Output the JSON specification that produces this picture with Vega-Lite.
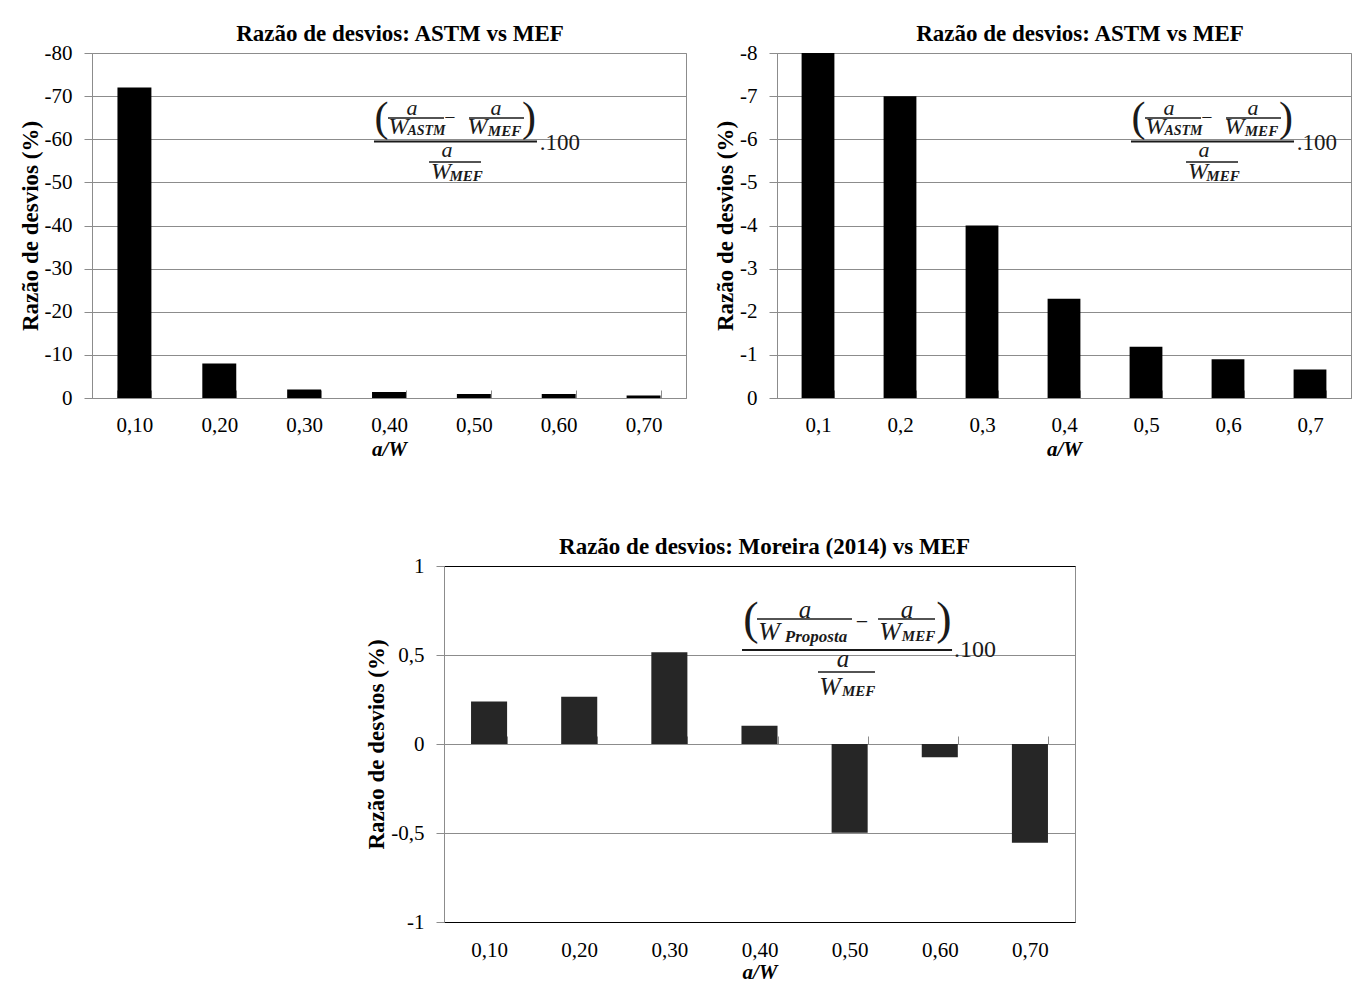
{
"$schema": "https://vega.github.io/schema/vega-lite/v6.json",
"padding": {"left": 18, "top": 22, "right": 1, "bottom": 0},
"config": {
  "font": "Liberation Serif",
  "locale": {"number": {"decimal": ",", "thousands": ".", "grouping": [3], "currency": ["", ""], "minus": "-"}},
  "view": {"stroke": "#8c8c8c", "strokeWidth": 1},
  "axis": {"labelFont": "Liberation Serif", "labelFontSize": 21, "labelColor": "#000", "titleFont": "Liberation Serif", "titleFontSize": 21, "titleFontWeight": "bold", "titleColor": "#000", "domainColor": "#8c8c8c", "tickColor": "#8c8c8c", "gridColor": "#8c8c8c", "gridOpacity": 1, "labelOverlap": false},
  "axisY": {"titleFontSize": 23},
  "title": {"font": "Liberation Serif", "fontSize": 23, "fontWeight": "bold", "color": "#000", "offset": -4}
},
"spacing": 75,
"vconcat": [
 {"hconcat": [
  {
   "width": 594, "height": 345,
   "title": {"text": "Razão de desvios: ASTM vs MEF", "dx": 11},
   "layer": [
    {"data": {"values": [{"aw": "0,10", "v": -72}, {"aw": "0,20", "v": -8}, {"aw": "0,30", "v": -2}, {"aw": "0,40", "v": -1.4}, {"aw": "0,50", "v": -0.9}, {"aw": "0,60", "v": -0.9}, {"aw": "0,70", "v": -0.6}]},
     "mark": {"type": "bar", "color": "#000", "clip": true},
     "encoding": {
      "x": {"field": "aw", "type": "nominal", "sort": null, "scale": {"paddingInner": 0.6, "paddingOuter": 0.3},
            "axis": {"orient": "bottom", "title": "a/W", "titleFontStyle": "italic", "titlePadding": 3, "labelAngle": 0, "tickBand": "extent", "tickSize": -8, "labelPadding": 24}},
      "y": {"field": "v", "type": "quantitative", "scale": {"domain": [-80, 0], "reverse": true, "nice": false, "zero": false},
            "axis": {"title": "Razão de desvios (%)", "values": [-80, -70, -60, -50, -40, -30, -20, -10, 0], "tickSize": 8, "labelPadding": 12, "titlePadding": 2, "grid": true}}
     }},
    {"data": {"values": [{}]},
     "layer": [
      {"mark": {"type": "rule", "color": "#1a1a1a", "strokeWidth": 2}, "encoding": {"x": {"datum": 0.3823, "type": "quantitative", "scale": {"domain": [0.05, 0.75], "nice": false, "zero": false}, "axis": {"orient": "top", "labels": false, "ticks": false, "grid": false, "title": null, "domainColor": "#000", "domainWidth": 1.2}}, "x2": {"datum": 0.5744}, "y": {"datum": -59.48, "type": "quantitative", "axis": null}}},
      {"mark": {"type": "rule", "color": "#1a1a1a", "strokeWidth": 1.5}, "encoding": {"x": {"datum": 0.3988, "type": "quantitative", "axis": null}, "x2": {"datum": 0.4648}, "y": {"datum": -64.93, "type": "quantitative", "axis": null}}},
      {"mark": {"type": "rule", "color": "#1a1a1a", "strokeWidth": 1.5}, "encoding": {"x": {"datum": 0.4943, "type": "quantitative", "axis": null}, "x2": {"datum": 0.5591}, "y": {"datum": -64.93, "type": "quantitative", "axis": null}}},
      {"mark": {"type": "rule", "color": "#1a1a1a", "strokeWidth": 1.5}, "encoding": {"x": {"datum": 0.4472, "type": "quantitative", "axis": null}, "x2": {"datum": 0.5084}, "y": {"datum": -54.72, "type": "quantitative", "axis": null}}},
      {"mark": {"type": "text", "text": "(", "fontSize": 42, "color": "#1a1a1a", "baseline": "middle", "align": "center"}, "encoding": {"x": {"datum": 0.3912, "type": "quantitative", "axis": null}, "y": {"datum": -65.04, "type": "quantitative", "axis": null}}},
      {"mark": {"type": "text", "text": ")", "fontSize": 42, "color": "#1a1a1a", "baseline": "middle", "align": "center"}, "encoding": {"x": {"datum": 0.5650, "type": "quantitative", "axis": null}, "y": {"datum": -65.04, "type": "quantitative", "axis": null}}},
      {"mark": {"type": "text", "text": "a", "fontSize": 22, "fontStyle": "italic", "color": "#1a1a1a", "baseline": "middle", "align": "center"}, "encoding": {"x": {"datum": 0.4271, "type": "quantitative", "axis": null}, "y": {"datum": -67.25, "type": "quantitative", "axis": null}}},
      {"mark": {"type": "text", "text": "a", "fontSize": 22, "fontStyle": "italic", "color": "#1a1a1a", "baseline": "middle", "align": "center"}, "encoding": {"x": {"datum": 0.5261, "type": "quantitative", "axis": null}, "y": {"datum": -67.25, "type": "quantitative", "axis": null}}},
      {"mark": {"type": "text", "text": "W", "fontSize": 24, "fontStyle": "italic", "color": "#1a1a1a", "baseline": "middle", "align": "center"}, "encoding": {"x": {"datum": 0.4112, "type": "quantitative", "axis": null}, "y": {"datum": -62.84, "type": "quantitative", "axis": null}}},
      {"mark": {"type": "text", "text": "ASTM", "fontSize": 14, "fontStyle": "italic", "fontWeight": "bold", "color": "#1a1a1a", "baseline": "middle", "align": "center"}, "encoding": {"x": {"datum": 0.4442, "type": "quantitative", "axis": null}, "y": {"datum": -61.91, "type": "quantitative", "axis": null}}},
      {"mark": {"type": "text", "text": "−", "fontSize": 20, "color": "#1a1a1a", "baseline": "middle", "align": "center"}, "encoding": {"x": {"datum": 0.4719, "type": "quantitative", "axis": null}, "y": {"datum": -64.93, "type": "quantitative", "axis": null}}},
      {"mark": {"type": "text", "text": "W", "fontSize": 24, "fontStyle": "italic", "color": "#1a1a1a", "baseline": "middle", "align": "center"}, "encoding": {"x": {"datum": 0.5043, "type": "quantitative", "axis": null}, "y": {"datum": -62.84, "type": "quantitative", "axis": null}}},
      {"mark": {"type": "text", "text": "MEF", "fontSize": 15, "fontStyle": "italic", "fontWeight": "bold", "color": "#1a1a1a", "baseline": "middle", "align": "center"}, "encoding": {"x": {"datum": 0.5361, "type": "quantitative", "axis": null}, "y": {"datum": -61.91, "type": "quantitative", "axis": null}}},
      {"mark": {"type": "text", "text": ".100", "fontSize": 23, "color": "#1a1a1a", "baseline": "middle", "align": "center"}, "encoding": {"x": {"datum": 0.6015, "type": "quantitative", "axis": null}, "y": {"datum": -59.13, "type": "quantitative", "axis": null}}},
      {"mark": {"type": "text", "text": "a", "fontSize": 22, "fontStyle": "italic", "color": "#1a1a1a", "baseline": "middle", "align": "center"}, "encoding": {"x": {"datum": 0.4684, "type": "quantitative", "axis": null}, "y": {"datum": -57.51, "type": "quantitative", "axis": null}}},
      {"mark": {"type": "text", "text": "W", "fontSize": 24, "fontStyle": "italic", "color": "#1a1a1a", "baseline": "middle", "align": "center"}, "encoding": {"x": {"datum": 0.4613, "type": "quantitative", "axis": null}, "y": {"datum": -52.41, "type": "quantitative", "axis": null}}},
      {"mark": {"type": "text", "text": "MEF", "fontSize": 15, "fontStyle": "italic", "fontWeight": "bold", "color": "#1a1a1a", "baseline": "middle", "align": "center"}, "encoding": {"x": {"datum": 0.4908, "type": "quantitative", "axis": null}, "y": {"datum": -51.48, "type": "quantitative", "axis": null}}}
     ]}
   ],
   "resolve": {"scale": {"x": "independent"}, "axis": {"x": "independent", "y": "independent"}}
  },
  {
   "width": 574, "height": 345,
   "title": {"text": "Razão de desvios: ASTM vs MEF", "dx": 16},
   "layer": [
    {"data": {"values": [{"aw": "0,1", "v": -8}, {"aw": "0,2", "v": -7}, {"aw": "0,3", "v": -4}, {"aw": "0,4", "v": -2.3}, {"aw": "0,5", "v": -1.19}, {"aw": "0,6", "v": -0.9}, {"aw": "0,7", "v": -0.66}]},
     "mark": {"type": "bar", "color": "#000", "clip": true},
     "encoding": {
      "x": {"field": "aw", "type": "nominal", "sort": null, "scale": {"paddingInner": 0.6, "paddingOuter": 0.3},
            "axis": {"orient": "bottom", "title": "a/W", "titleFontStyle": "italic", "titlePadding": 3, "labelAngle": 0, "tickBand": "extent", "tickSize": -8, "labelPadding": 24}},
      "y": {"field": "v", "type": "quantitative", "scale": {"domain": [-8, 0], "reverse": true, "nice": false, "zero": false},
            "axis": {"title": "Razão de desvios (%)", "values": [-8, -7, -6, -5, -4, -3, -2, -1, 0], "tickSize": 8, "labelPadding": 12, "titlePadding": 2, "grid": true}}
     }},
    {"data": {"values": [{}]},
     "layer": [
      {"mark": {"type": "rule", "color": "#1a1a1a", "strokeWidth": 2}, "encoding": {"x": {"datum": 0.4817, "type": "quantitative", "scale": {"domain": [0.05, 0.75], "nice": false, "zero": false}, "axis": {"orient": "top", "labels": false, "ticks": false, "grid": false, "title": null, "domainColor": "#000", "domainWidth": 1.2}}, "x2": {"datum": 0.6805}, "y": {"datum": -5.948, "type": "quantitative", "axis": null}}},
      {"mark": {"type": "rule", "color": "#1a1a1a", "strokeWidth": 1.5}, "encoding": {"x": {"datum": 0.4988, "type": "quantitative", "axis": null}, "x2": {"datum": 0.5671}, "y": {"datum": -6.493, "type": "quantitative", "axis": null}}},
      {"mark": {"type": "rule", "color": "#1a1a1a", "strokeWidth": 1.5}, "encoding": {"x": {"datum": 0.5976, "type": "quantitative", "axis": null}, "x2": {"datum": 0.6646}, "y": {"datum": -6.493, "type": "quantitative", "axis": null}}},
      {"mark": {"type": "rule", "color": "#1a1a1a", "strokeWidth": 1.5}, "encoding": {"x": {"datum": 0.5488, "type": "quantitative", "axis": null}, "x2": {"datum": 0.6122}, "y": {"datum": -5.472, "type": "quantitative", "axis": null}}},
      {"mark": {"type": "text", "text": "(", "fontSize": 42, "color": "#1a1a1a", "baseline": "middle", "align": "center"}, "encoding": {"x": {"datum": 0.4909, "type": "quantitative", "axis": null}, "y": {"datum": -6.504, "type": "quantitative", "axis": null}}},
      {"mark": {"type": "text", "text": ")", "fontSize": 42, "color": "#1a1a1a", "baseline": "middle", "align": "center"}, "encoding": {"x": {"datum": 0.6707, "type": "quantitative", "axis": null}, "y": {"datum": -6.504, "type": "quantitative", "axis": null}}},
      {"mark": {"type": "text", "text": "a", "fontSize": 22, "fontStyle": "italic", "color": "#1a1a1a", "baseline": "middle", "align": "center"}, "encoding": {"x": {"datum": 0.5280, "type": "quantitative", "axis": null}, "y": {"datum": -6.725, "type": "quantitative", "axis": null}}},
      {"mark": {"type": "text", "text": "a", "fontSize": 22, "fontStyle": "italic", "color": "#1a1a1a", "baseline": "middle", "align": "center"}, "encoding": {"x": {"datum": 0.6305, "type": "quantitative", "axis": null}, "y": {"datum": -6.725, "type": "quantitative", "axis": null}}},
      {"mark": {"type": "text", "text": "W", "fontSize": 24, "fontStyle": "italic", "color": "#1a1a1a", "baseline": "middle", "align": "center"}, "encoding": {"x": {"datum": 0.5116, "type": "quantitative", "axis": null}, "y": {"datum": -6.284, "type": "quantitative", "axis": null}}},
      {"mark": {"type": "text", "text": "ASTM", "fontSize": 14, "fontStyle": "italic", "fontWeight": "bold", "color": "#1a1a1a", "baseline": "middle", "align": "center"}, "encoding": {"x": {"datum": 0.5457, "type": "quantitative", "axis": null}, "y": {"datum": -6.191, "type": "quantitative", "axis": null}}},
      {"mark": {"type": "text", "text": "−", "fontSize": 20, "color": "#1a1a1a", "baseline": "middle", "align": "center"}, "encoding": {"x": {"datum": 0.5744, "type": "quantitative", "axis": null}, "y": {"datum": -6.493, "type": "quantitative", "axis": null}}},
      {"mark": {"type": "text", "text": "W", "fontSize": 24, "fontStyle": "italic", "color": "#1a1a1a", "baseline": "middle", "align": "center"}, "encoding": {"x": {"datum": 0.6079, "type": "quantitative", "axis": null}, "y": {"datum": -6.284, "type": "quantitative", "axis": null}}},
      {"mark": {"type": "text", "text": "MEF", "fontSize": 15, "fontStyle": "italic", "fontWeight": "bold", "color": "#1a1a1a", "baseline": "middle", "align": "center"}, "encoding": {"x": {"datum": 0.6408, "type": "quantitative", "axis": null}, "y": {"datum": -6.191, "type": "quantitative", "axis": null}}},
      {"mark": {"type": "text", "text": ".100", "fontSize": 23, "color": "#1a1a1a", "baseline": "middle", "align": "center"}, "encoding": {"x": {"datum": 0.7085, "type": "quantitative", "axis": null}, "y": {"datum": -5.913, "type": "quantitative", "axis": null}}},
      {"mark": {"type": "text", "text": "a", "fontSize": 22, "fontStyle": "italic", "color": "#1a1a1a", "baseline": "middle", "align": "center"}, "encoding": {"x": {"datum": 0.5707, "type": "quantitative", "axis": null}, "y": {"datum": -5.751, "type": "quantitative", "axis": null}}},
      {"mark": {"type": "text", "text": "W", "fontSize": 24, "fontStyle": "italic", "color": "#1a1a1a", "baseline": "middle", "align": "center"}, "encoding": {"x": {"datum": 0.5634, "type": "quantitative", "axis": null}, "y": {"datum": -5.241, "type": "quantitative", "axis": null}}},
      {"mark": {"type": "text", "text": "MEF", "fontSize": 15, "fontStyle": "italic", "fontWeight": "bold", "color": "#1a1a1a", "baseline": "middle", "align": "center"}, "encoding": {"x": {"datum": 0.5939, "type": "quantitative", "axis": null}, "y": {"datum": -5.148, "type": "quantitative", "axis": null}}}
     ]}
   ],
   "resolve": {"scale": {"x": "independent"}, "axis": {"x": "independent", "y": "independent"}}
  }
 ], "spacing": 27},
 {"hconcat": [
  {"width": 273, "height": 1, "mark": {"type": "point", "opacity": 0}, "data": {"values": []}, "view": {"stroke": null}},
  {
   "width": 631, "height": 356,
   "title": {"text": "Razão de desvios: Moreira (2014) vs MEF", "dx": 5},
   "layer": [
    {"data": {"values": [{"aw": "0,10", "v": 0.239}, {"aw": "0,20", "v": 0.265}, {"aw": "0,30", "v": 0.516}, {"aw": "0,40", "v": 0.103}, {"aw": "0,50", "v": -0.499}, {"aw": "0,60", "v": -0.075}, {"aw": "0,70", "v": -0.555}]},
     "mark": {"type": "bar", "color": "#262626", "clip": true},
     "encoding": {
      "x": {"field": "aw", "type": "nominal", "sort": null, "scale": {"paddingInner": 0.6, "paddingOuter": 0.3},
            "axis": {"orient": "bottom", "offset": -178, "title": "a/W", "titleFontStyle": "italic", "titlePadding": 17, "labelAngle": 0, "tickBand": "extent", "tickSize": -8, "labelPadding": 203}},
      "y": {"field": "v", "type": "quantitative", "scale": {"domain": [-1, 1], "nice": false, "zero": false},
            "axis": {"title": "Razão de desvios (%)", "values": [-1, -0.5, 0, 0.5, 1], "format": "~g", "tickSize": 8, "labelPadding": 12, "titlePadding": 2, "grid": true}}
     }},
    {"data": {"values": [{}]},
     "layer": [
      {"mark": {"type": "rule", "color": "#1a1a1a", "strokeWidth": 2}, "encoding": {"x": {"datum": 0.3806, "type": "quantitative", "scale": {"domain": [0.05, 0.75], "nice": false, "zero": false}, "axis": {"orient": "top", "labels": false, "ticks": false, "grid": false, "title": null, "domainColor": "#000", "domainWidth": 1.2}}, "x2": {"datum": 0.6136}, "y": {"datum": 0.5281, "type": "quantitative", "axis": null}}},
      {"mark": {"type": "rule", "color": "#1a1a1a", "strokeWidth": 1.5}, "encoding": {"x": {"datum": 0.3972, "type": "quantitative", "axis": {"orient": "bottom", "labels": false, "ticks": false, "grid": false, "title": null, "domainColor": "#000", "domainWidth": 1.2}}, "x2": {"datum": 0.5026}, "y": {"datum": 0.7022, "type": "quantitative", "axis": null}}},
      {"mark": {"type": "rule", "color": "#1a1a1a", "strokeWidth": 1.5}, "encoding": {"x": {"datum": 0.5315, "type": "quantitative", "axis": null}, "x2": {"datum": 0.5947}, "y": {"datum": 0.7022, "type": "quantitative", "axis": null}}},
      {"mark": {"type": "rule", "color": "#1a1a1a", "strokeWidth": 1.5}, "encoding": {"x": {"datum": 0.4649, "type": "quantitative", "axis": null}, "x2": {"datum": 0.5281}, "y": {"datum": 0.4045, "type": "quantitative", "axis": null}}},
      {"mark": {"type": "text", "text": "(", "fontSize": 46, "color": "#1a1a1a", "baseline": "middle", "align": "center"}, "encoding": {"x": {"datum": 0.3906, "type": "quantitative", "axis": null}, "y": {"datum": 0.6994, "type": "quantitative", "axis": null}}},
      {"mark": {"type": "text", "text": ")", "fontSize": 46, "color": "#1a1a1a", "baseline": "middle", "align": "center"}, "encoding": {"x": {"datum": 0.6047, "type": "quantitative", "axis": null}, "y": {"datum": 0.6994, "type": "quantitative", "axis": null}}},
      {"mark": {"type": "text", "text": "a", "fontSize": 25, "fontStyle": "italic", "color": "#1a1a1a", "baseline": "middle", "align": "center"}, "encoding": {"x": {"datum": 0.4505, "type": "quantitative", "axis": null}, "y": {"datum": 0.7528, "type": "quantitative", "axis": null}}},
      {"mark": {"type": "text", "text": "a", "fontSize": 25, "fontStyle": "italic", "color": "#1a1a1a", "baseline": "middle", "align": "center"}, "encoding": {"x": {"datum": 0.5637, "type": "quantitative", "axis": null}, "y": {"datum": 0.7528, "type": "quantitative", "axis": null}}},
      {"mark": {"type": "text", "text": "W", "fontSize": 26, "fontStyle": "italic", "color": "#1a1a1a", "baseline": "middle", "align": "center"}, "encoding": {"x": {"datum": 0.4106, "type": "quantitative", "axis": null}, "y": {"datum": 0.6320, "type": "quantitative", "axis": null}}},
      {"mark": {"type": "text", "text": "Proposta", "fontSize": 17, "fontStyle": "italic", "fontWeight": "bold", "color": "#1a1a1a", "baseline": "middle", "align": "center"}, "encoding": {"x": {"datum": 0.4627, "type": "quantitative", "axis": null}, "y": {"datum": 0.6011, "type": "quantitative", "axis": null}}},
      {"mark": {"type": "text", "text": "−", "fontSize": 22, "color": "#1a1a1a", "baseline": "middle", "align": "center"}, "encoding": {"x": {"datum": 0.5137, "type": "quantitative", "axis": null}, "y": {"datum": 0.6854, "type": "quantitative", "axis": null}}},
      {"mark": {"type": "text", "text": "W", "fontSize": 26, "fontStyle": "italic", "color": "#1a1a1a", "baseline": "middle", "align": "center"}, "encoding": {"x": {"datum": 0.5448, "type": "quantitative", "axis": null}, "y": {"datum": 0.6320, "type": "quantitative", "axis": null}}},
      {"mark": {"type": "text", "text": "MEF", "fontSize": 15, "fontStyle": "italic", "fontWeight": "bold", "color": "#1a1a1a", "baseline": "middle", "align": "center"}, "encoding": {"x": {"datum": 0.5764, "type": "quantitative", "axis": null}, "y": {"datum": 0.6067, "type": "quantitative", "axis": null}}},
      {"mark": {"type": "text", "text": ".100", "fontSize": 24, "color": "#1a1a1a", "baseline": "middle", "align": "center"}, "encoding": {"x": {"datum": 0.6391, "type": "quantitative", "axis": null}, "y": {"datum": 0.5281, "type": "quantitative", "axis": null}}},
      {"mark": {"type": "text", "text": "a", "fontSize": 25, "fontStyle": "italic", "color": "#1a1a1a", "baseline": "middle", "align": "center"}, "encoding": {"x": {"datum": 0.4927, "type": "quantitative", "axis": null}, "y": {"datum": 0.4775, "type": "quantitative", "axis": null}}},
      {"mark": {"type": "text", "text": "W", "fontSize": 26, "fontStyle": "italic", "color": "#1a1a1a", "baseline": "middle", "align": "center"}, "encoding": {"x": {"datum": 0.4782, "type": "quantitative", "axis": null}, "y": {"datum": 0.3202, "type": "quantitative", "axis": null}}},
      {"mark": {"type": "text", "text": "MEF", "fontSize": 15, "fontStyle": "italic", "fontWeight": "bold", "color": "#1a1a1a", "baseline": "middle", "align": "center"}, "encoding": {"x": {"datum": 0.5099, "type": "quantitative", "axis": null}, "y": {"datum": 0.2978, "type": "quantitative", "axis": null}}}
     ],
     "resolve": {"axis": {"x": "independent"}}}
   ],
   "resolve": {"scale": {"x": "independent"}, "axis": {"x": "independent", "y": "independent"}}
  }
 ], "spacing": 0}
]
}
